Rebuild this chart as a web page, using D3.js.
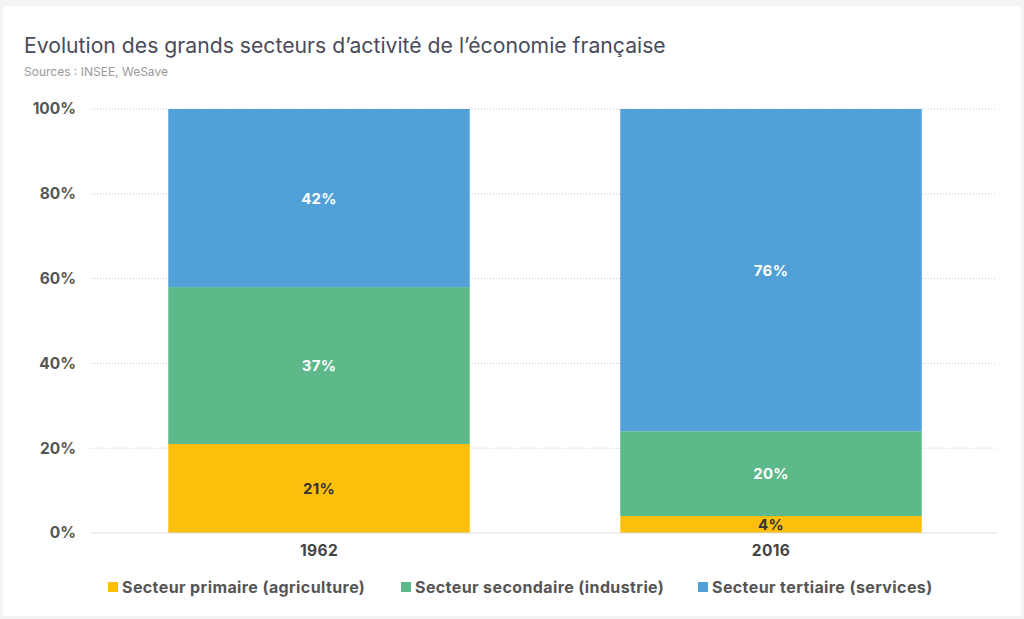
<!DOCTYPE html>
<html><head><meta charset="utf-8">
<script src="https://cdn.jsdelivr.net/npm/d3@7"></script>
<style>
html,body{margin:0;padding:0;background:#fff;}
svg{display:block;font-family:Inter,"Noto Sans",sans-serif;}
</style></head>
<body>
<svg id="chart" width="1024" height="619"></svg>
<script>
const categories = ["1962", "2016"];
const seriesNames = ["Secteur primaire (agriculture)", "Secteur secondaire (industrie)", "Secteur tertiaire (services)"];
const primaire = [21, 4];
const secondaire = [37, 20];
const tertiaire = [42, 76];
const yTicks = [0, 20, 40, 60, 80, 100];
const colors = ["#FBBF0C", "#5DB98A", "#51A0D8"];
const labelColors = ["#333333", "#ffffff", "#ffffff"];

const svg = d3.select("#chart");
const W = 1024, H = 619;
const m = {left: 91, right: 27, top: 109, bottom: 86};

// frame
svg.append("rect").attr("x", 0).attr("y", 0).attr("width", W).attr("height", H).attr("fill", "#f3f3f3");
svg.append("rect").attr("x", 3).attr("y", 6).attr("width", 1018).attr("height", 610).attr("fill", "#fff");

svg.append("text").attr("x", 24).attr("y", 53).attr("font-size", 21.2).attr("fill", "#4a4a5a")
  .text("Evolution des grands secteurs d’activité de l’économie française");
svg.append("text").attr("x", 24).attr("y", 76).attr("font-size", 12).attr("fill", "#9a9a9a")
  .text("Sources : INSEE, WeSave");

const x = d3.scaleBand().domain(categories).range([m.left + 2, W - m.right]).paddingInner(0.333).paddingOuter(0.1665);
const y = d3.scaleLinear().domain([0, 100]).range([H - m.bottom, m.top]);

// grid
svg.append("g").selectAll("line").data(yTicks.filter(d => d > 0)).join("line")
  .attr("x1", m.left).attr("x2", W - m.right)
  .attr("y1", d => y(d)).attr("y2", d => y(d))
  .attr("stroke", "#c8c8c8").attr("stroke-width", 1).attr("stroke-dasharray", "1,2");

const data = categories.map((c, i) => ({cat: c, s0: primaire[i], s1: secondaire[i], s2: tertiaire[i]}));
const stack = d3.stack().keys(["s0", "s1", "s2"]);
const stacked = stack(data);

const g = svg.append("g");
stacked.forEach((layer, li) => {
  g.append("g").selectAll("rect").data(layer).join("rect")
    .attr("x", d => x(d.data.cat)).attr("width", x.bandwidth())
    .attr("y", d => y(d[1])).attr("height", d => y(d[0]) - y(d[1]))
    .attr("fill", colors[li]);
  g.append("g").selectAll("text").data(layer).join("text")
    .attr("x", d => x(d.data.cat) + x.bandwidth() / 2)
    .attr("y", d => (y(d[0]) + y(d[1])) / 2 + 5.5)
    .attr("text-anchor", "middle").attr("font-size", 15).attr("font-weight", 700)
    .attr("letter-spacing", 0.3)
    .attr("fill", labelColors[li])
    .text(d => (d[1] - d[0]) + "%");
});

// baseline
svg.append("line").attr("x1", m.left).attr("x2", W - m.right).attr("y1", y(0)).attr("y2", y(0))
  .attr("stroke", "#dddddd").attr("stroke-width", 1);

// y axis
const yAxis = d3.axisLeft(y).tickValues(yTicks).tickFormat(d => d + "%").tickSize(0).tickPadding(15);
const ya = svg.append("g").attr("transform", `translate(${m.left},0)`).call(yAxis);
ya.select(".domain").remove();
ya.selectAll("text").attr("font-size", 15.5).attr("font-weight", 700).attr("fill", "#555").attr("font-family", "Inter, sans-serif");

// x axis
const xAxis = d3.axisBottom(x).tickSize(0).tickPadding(12);
const xa = svg.append("g").attr("transform", `translate(0,${y(0)})`).call(xAxis);
xa.select(".domain").remove();
xa.selectAll("text").attr("font-size", 15.5).attr("font-weight", 700).attr("fill", "#444").attr("font-family", "Inter, sans-serif").attr("letter-spacing", 0.4);

// legend
const legX = [108, 401, 698];
const leg = svg.append("g");
seriesNames.forEach((n, i) => {
  leg.append("rect").attr("x", legX[i]).attr("y", 582).attr("width", 10).attr("height", 10).attr("fill", colors[i]);
  leg.append("text").attr("x", legX[i] + 14).attr("y", 593).attr("font-size", 16).attr("font-weight", 700)
    .attr("letter-spacing", 0.4)
    .attr("fill", "#555").text(n);
});
</script>
</body></html>
